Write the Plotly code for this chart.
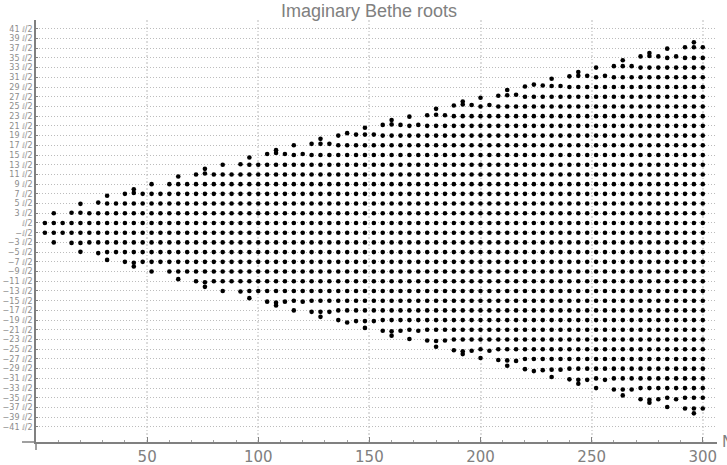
import plotly.graph_objects as go

# Spin-chain length for each column of roots
N_values = [4, 8, 12, 16, 20, 24, 28, 32, 36, 40, 44, 48, 52, 56, 60,
            64, 68, 72, 76, 80, 84, 88, 92, 96, 100, 104, 108, 112, 116, 120,
            124, 128, 132, 136, 140, 144, 148, 152, 156, 160, 164, 168, 172, 176, 180,
            184, 188, 192, 196, 200, 204, 208, 212, 216, 220, 224, 228, 232, 236, 240,
            244, 248, 252, 256, 260, 264, 268, 272, 276, 280, 284, 288, 292, 296, 300]

# Highest regular row (odd multiple of i/2) in each column
top_row = [1, 3, 1, 3, 3, 3, 5, 5, 5, 7, 7, 7, 9, 7, 9,
           9, 9, 11, 11, 11, 13, 11, 13, 13, 13, 15, 15, 15, 17, 15,
           17, 17, 17, 19, 19, 19, 19, 19, 21, 21, 21, 23, 21, 23, 23,
           23, 25, 25, 25, 27, 25, 27, 27, 27, 29, 29, 29, 29, 29, 31,
           31, 31, 33, 31, 33, 33, 33, 35, 35, 35, 37, 35, 37, 37, 37]

# Value read for the top dot of the column, in units of i/2
top_value = [1, 3, 1, 3.1, 3.1, 3, 5.2, 5, 5, 7, 7.2, 7, 9, 7, 9,
             9, 9, 11, 11.2, 11, 13, 11, 13.1, 13, 13, 15.2, 15.4, 15.2, 17, 15.2,
             17.3, 17.3, 17.3, 19, 19.5, 19.2, 19.2, 19.2, 21.2, 21.3, 21.2, 22.9, 21.2, 23.2, 23.3,
             23.2, 25.2, 25.4, 25.3, 26.8, 25.3, 27.2, 27.3, 27.4, 29.1, 29.5, 29.3, 29.2, 29.2, 31.2,
             31.3, 31.3, 33, 31.3, 33.3, 33.3, 33.3, 35.3, 35.4, 35.3, 36.9, 35.3, 37.2, 37.2, 37.2]

# Extra root above the top row (0 = no extra root)
extra_value = [0, 0, 0, 0, 4.94, 0, 0, 6.6, 0, 0, 7.95, 0, 0, 0, 0,
               10.57, 0, 0, 12.15, 0, 0, 0, 0, 14.48, 0, 0, 16.0, 0, 0, 0,
               0, 18.33, 0, 0, 0, 0, 20.6, 0, 0, 22.2, 0, 0, 0, 0, 24.5,
               0, 0, 26.0, 0, 0, 0, 0, 28.4, 0, 0, 0, 0, 30.7, 0, 0,
               32.1, 0, 0, 0, 0, 34.5, 0, 0, 36.0, 0, 0, 0, 0, 38.2, 0]

y_tick_rows = [41, 39, 37, 35, 33, 31, 29, 27, 25, 23, 21, 19, 17, 15, 13, 11, 9, 7, 5, 3, 1,
               -1, -3, -5, -7, -9, -11, -13, -15, -17, -19, -21, -23, -25, -27, -29, -31, -33, -35, -37, -39, -41]
x_tick_values = [50, 100, 150, 200, 250, 300]

x_points, y_points = [], []
for n, row, val, extra in zip(N_values, top_row, top_value, extra_value):
    rows = list(range(1, row, 2)) + [val]
    if extra:
        rows.append(extra)
    for r in rows:
        x_points += [n, n]
        y_points += [r, -r]


def tick_text(k):
    sign = "\u2212" if k < 0 else ""
    a = abs(k)
    return f"{sign}\u2148/2" if a == 1 else f"{sign}{a} \u2148/2"


GREY = "#808080"
fig = go.Figure(go.Scatter(x=x_points, y=y_points, mode="markers",
                           marker=dict(color="black", size=4.6, line=dict(width=0)),
                           cliponaxis=False, hoverinfo="skip"))
fig.update_layout(
    width=727, height=465, autosize=False, showlegend=False,
    paper_bgcolor="white", plot_bgcolor="white",
    margin=dict(l=36, r=10, t=20, b=23, pad=0, autoexpand=False),
    title=dict(text="Imaginary Bethe roots", x=369 / 727, xanchor="center", xref="container",
               y=1 - 10.5 / 465, yanchor="middle", yref="container", automargin=False,
               font=dict(family="Liberation Sans", size=18, color="#808080")),
    xaxis=dict(range=[0, 306.4], tickvals=x_tick_values, showline=True, linecolor=GREY, linewidth=1.5,
               automargin=False,
               showgrid=True, gridcolor="#dcdcdc", griddash="1.5px,2px", gridwidth=1.5, zeroline=False,
               ticks="inside", ticklen=5, tickcolor=GREY, tickwidth=1,
               minor=dict(dtick=10, tick0=0, ticks="inside", ticklen=2.5, tickcolor="#a0a0a0", tickwidth=1, showgrid=False),
               tickfont=dict(family="DejaVu Sans", size=15, color="#808080")),
    yaxis=dict(range=[-44.1, 42.8], tickvals=y_tick_rows, ticktext=[tick_text(k) for k in y_tick_rows],
               automargin=False,
               showline=True, linecolor=GREY, linewidth=1.5,
               showgrid=True, gridcolor="#bcbcbc", griddash="1px,2px", gridwidth=1, zeroline=False,
               ticks="inside", ticklen=2, tickcolor=GREY, tickwidth=1,
               tickfont=dict(family="DejaVu Sans", size=8, color="#8c8c8c")),
    shapes=[
        dict(type="line", xref="paper", yref="paper", x0=-14 / 681, x1=0, y0=0, y1=0,
             line=dict(color=GREY, width=1.5)),
        dict(type="line", xref="paper", yref="paper", x0=0, x1=0, y0=-8 / 422, y1=0,
             line=dict(color=GREY, width=1.5)),
    ],
    annotations=[dict(text="N", xref="paper", yref="paper", x=1 + 3 / 681, y=0, xanchor="left", yanchor="middle",
                      showarrow=False, font=dict(family="DejaVu Sans", size=15, color="#808080"))],
)
fig.write_html("out.html", config={"displayModeBar": False}, post_script="document.body.style.margin='0';")
